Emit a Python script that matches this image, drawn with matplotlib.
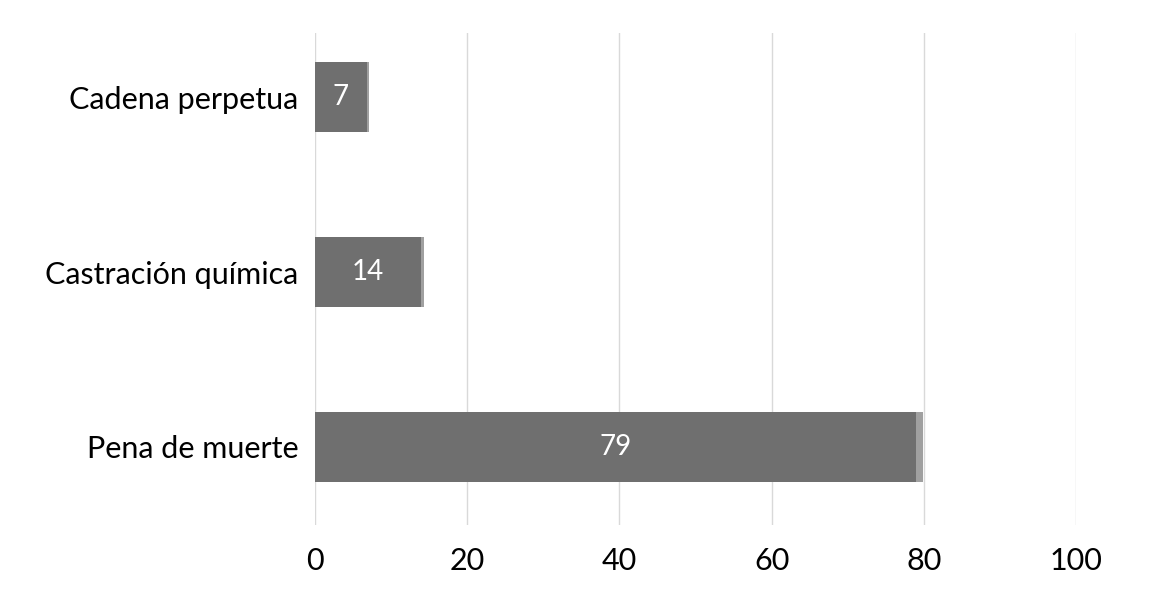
import matplotlib.pyplot as plt
import numpy as np

categories = ['Pena de muerte', 'Castración química', 'Cadena perpetua']
values = [79.0, 13.9, 6.8]
rest = [0.9, 0.4, 0.3]
labels = ['79', '14', '7']
xticks = [0, 20, 40, 60, 80, 100]

plt.rcParams['font.family'] = ['Lato', 'DejaVu Sans']

fig = plt.figure(figsize=(11.52, 6.15), dpi=100)
ax = fig.add_axes([315/1152, 1 - 525/615, (1076-315)/1152, (525-33)/615])

y = np.arange(len(categories))
bars = ax.barh(y, values, height=0.4, color='#6f6f6f', zorder=3)
ax.barh(y, rest, left=values, height=0.4, color='#a0a0a0', zorder=3)

for b, lab in zip(bars, labels):
    ax.text(b.get_width() / 2, b.get_y() + b.get_height() / 2, lab,
            ha='center', va='center', color='white', fontsize=20, zorder=4)

ax.set_xlim(0, 100)
ax.set_ylim(-0.446, 2.366)
ax.set_xticks(xticks)
ax.set_yticks(y)
ax.set_yticklabels(categories)
ax.tick_params(axis='both', length=0, labelsize=22, colors='black')
ax.tick_params(axis='x', pad=16)
ax.tick_params(axis='y', pad=12)
ax.grid(axis='x', color='#d9d9d9', linewidth=1, zorder=0)
for s in ax.spines.values():
    s.set_visible(False)

fig.savefig('out.png', dpi=100)
